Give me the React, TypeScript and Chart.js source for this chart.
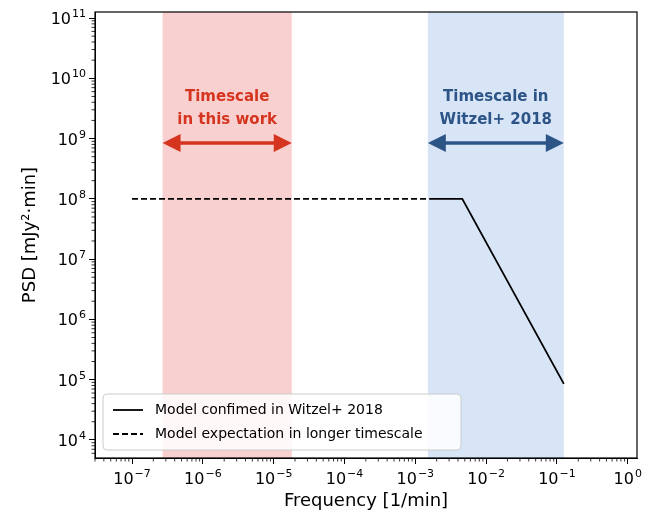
import React, { useEffect, useRef } from "react";
import { Chart, registerables } from "chart.js";
Chart.register(...registerables);

const dashedFreq = [1e-7, 1.6e-3];
const dashedPsd = [1e8, 1e8];
const solidFreq = [1.6e-3, 4.6e-3, 0.125];
const solidPsd = [1e8, 1e8, 8.5e4];
const redBand = [2.7e-7, 1.8e-5];
const blueBand = [1.5e-3, 0.125];
const xExps = [-7, -6, -5, -4, -3, -2, -1, 0];
const yExps = [4, 5, 6, 7, 8, 9, 10, 11];
const legendLabels = ["Model confimed in Witzel+ 2018", "Model expectation in longer timescale"];
const yTitle = "PSD [mJy²·min]";

const FONT = "DejaVu Sans";

const drawPow = (ctx: any, e: number, cx: number, cy: number, align: "center" | "right") => {
  const base = "10", ex = e === 0 ? "0" : String(e).replace("-", "−");
  ctx.font = `16px ${FONT}`; const bw = ctx.measureText(base).width;
  ctx.font = `11px ${FONT}`; const ew = ctx.measureText(ex).width;
  const tw = bw + ew + 1;
  const x0 = align === "center" ? cx - tw / 2 : cx - tw;
  ctx.textAlign = "left"; ctx.textBaseline = "alphabetic"; ctx.fillStyle = "#000";
  ctx.font = `16px ${FONT}`; ctx.fillText(base, x0, cy + 6);
  ctx.font = `11px ${FONT}`; ctx.fillText(ex, x0 + bw + 1, cy - 1);
};

const deco = {
  id: "deco",
  beforeDatasetsDraw(chart: any) {
    const { ctx, chartArea: a, scales } = chart;
    const x = scales.x;
    ctx.save();
    ctx.fillStyle = "rgba(244,170,170,0.55)";
    ctx.fillRect(x.getPixelForValue(redBand[0]), a.top, x.getPixelForValue(redBand[1]) - x.getPixelForValue(redBand[0]), a.bottom - a.top);
    ctx.fillStyle = "rgba(190,212,242,0.6)";
    ctx.fillRect(x.getPixelForValue(blueBand[0]), a.top, x.getPixelForValue(blueBand[1]) - x.getPixelForValue(blueBand[0]), a.bottom - a.top);
    ctx.restore();
  },
  afterDatasetsDraw(chart: any) {
    const { ctx, chartArea: a, scales } = chart;
    const x = scales.x, y = scales.y;
    ctx.save();
    ctx.strokeStyle = "#000"; ctx.lineWidth = 0.8;
    for (let e = -8; e <= 0; e++) for (let m = 2; m < 10; m++) {
      const px = x.getPixelForValue(m * Math.pow(10, e));
      if (px < a.left || px > a.right) continue;
      ctx.beginPath(); ctx.moveTo(px, a.bottom); ctx.lineTo(px, a.bottom + 3.5); ctx.stroke();
    }
    for (let e = 3; e <= 11; e++) for (let m = 2; m < 10; m++) {
      const py = y.getPixelForValue(m * Math.pow(10, e));
      if (py < a.top || py > a.bottom) continue;
      ctx.beginPath(); ctx.moveTo(a.left, py); ctx.lineTo(a.left - 3.5, py); ctx.stroke();
    }
    ctx.lineWidth = 1.2;
    ctx.strokeRect(a.left, a.top, a.right - a.left, a.bottom - a.top);
    // tick labels
    xExps.forEach((e) => drawPow(ctx, e, x.getPixelForValue(Math.pow(10, e)), a.bottom + 20, "center"));
    yExps.forEach((e) => drawPow(ctx, e, a.left - 9, y.getPixelForValue(Math.pow(10, e)), "right"));
    ctx.save();
    ctx.translate(30, (a.top + a.bottom) / 2); ctx.rotate(-Math.PI / 2);
    ctx.font = `18px ${FONT}`; ctx.textAlign = "center"; ctx.textBaseline = "middle"; ctx.fillStyle = "#000";
    ctx.fillText(yTitle, 0, 0);
    ctx.restore();
    const arrow = (x1: number, x2: number, yy: number, col: string) => {
      ctx.strokeStyle = col; ctx.fillStyle = col; ctx.lineWidth = 3.5;
      ctx.beginPath(); ctx.moveTo(x1 + 12, yy); ctx.lineTo(x2 - 12, yy); ctx.stroke();
      ctx.beginPath(); ctx.moveTo(x1, yy); ctx.lineTo(x1 + 18, yy - 9); ctx.lineTo(x1 + 18, yy + 9); ctx.closePath(); ctx.fill();
      ctx.beginPath(); ctx.moveTo(x2, yy); ctx.lineTo(x2 - 18, yy - 9); ctx.lineTo(x2 - 18, yy + 9); ctx.closePath(); ctx.fill();
    };
    const red = "#d5351f", blue = "#2d5487";
    const rx1 = x.getPixelForValue(redBand[0]), rx2 = x.getPixelForValue(redBand[1]);
    const bx1 = x.getPixelForValue(blueBand[0]), bx2 = x.getPixelForValue(blueBand[1]);
    arrow(rx1, rx2, 143, red);
    arrow(bx1, bx2, 143, blue);
    ctx.font = `bold 15px ${FONT}`; ctx.textAlign = "center"; ctx.textBaseline = "middle";
    ctx.fillStyle = red;
    ctx.fillText("Timescale", (rx1 + rx2) / 2, 97);
    ctx.fillText("in this work", (rx1 + rx2) / 2, 120);
    ctx.fillStyle = blue;
    ctx.fillText("Timescale in", (bx1 + bx2) / 2, 97);
    ctx.fillText("Witzel+ 2018", (bx1 + bx2) / 2, 120);
    const lx = a.left + 8, ly = 394, lw = 358, lh = 56;
    ctx.fillStyle = "rgba(255,255,255,0.85)"; ctx.strokeStyle = "#ccc"; ctx.lineWidth = 1;
    ctx.beginPath(); (ctx as any).roundRect(lx, ly, lw, lh, 4); ctx.fill(); ctx.stroke();
    ctx.strokeStyle = "#000"; ctx.lineWidth = 1.8;
    ctx.beginPath(); ctx.moveTo(lx + 10, ly + 16); ctx.lineTo(lx + 40, ly + 16); ctx.stroke();
    ctx.setLineDash([6, 3]);
    ctx.beginPath(); ctx.moveTo(lx + 10, ly + 40); ctx.lineTo(lx + 40, ly + 40); ctx.stroke();
    ctx.setLineDash([]);
    ctx.fillStyle = "#000"; ctx.font = `14px ${FONT}`; ctx.textAlign = "left";
    ctx.fillText(legendLabels[0], lx + 52, ly + 16);
    ctx.fillText(legendLabels[1], lx + 52, ly + 40);
    ctx.restore();
  },
};

export default function App() {
  const ref = useRef<HTMLCanvasElement>(null);
  useEffect(() => {
    const chart = new Chart(ref.current!, {
      type: "line",
      data: {
        datasets: [
          { data: solidFreq.map((f, i) => ({ x: f, y: solidPsd[i] })), borderColor: "#000", borderWidth: 1.8, pointRadius: 0 },
          { data: dashedFreq.map((f, i) => ({ x: f, y: dashedPsd[i] })), borderColor: "#000", borderWidth: 1.8, borderDash: [6, 3], pointRadius: 0 },
        ],
      },
      options: {
        animation: false, responsive: false,
        layout: { padding: { top: 12, right: 29, left: 0, bottom: 0 } },
        plugins: { legend: { display: false }, tooltip: { enabled: false } },
        scales: {
          x: {
            type: "logarithmic", min: Math.pow(10, -7.49), max: Math.pow(10, 0.13),
            afterBuildTicks: (s: any) => { s.ticks = xExps.map((e) => ({ value: Math.pow(10, e) })); },
            afterFit: (s: any) => { s.height = 54; },
            ticks: { callback: () => "", color: "#000", font: { family: FONT, size: 15 }, maxRotation: 0, padding: 12 },
            grid: { drawOnChartArea: false, tickLength: 6, color: "#000" },
            border: { color: "#000" },
            title: { display: true, text: "Frequency [1/min]", color: "#000", font: { family: FONT, size: 18 }, padding: 0 },
          },
          y: {
            type: "logarithmic", min: Math.pow(10, 3.7), max: Math.pow(10, 11.1),
            afterBuildTicks: (s: any) => { s.ticks = yExps.map((e) => ({ value: Math.pow(10, e) })); },
            afterFit: (s: any) => { s.width = 95; },
            ticks: { callback: () => "" },
            grid: { drawOnChartArea: false, tickLength: 6, color: "#000" },
            border: { color: "#000" },
          },
        },
      },
      plugins: [deco],
    });
    return () => chart.destroy();
  }, []);
  return (
    <div style={{ position: "fixed", left: 0, top: 0, width: 666, height: 512, background: "#fff" }}>
      <canvas ref={ref} width={666} height={512} style={{ width: 666, height: 512 }} />
    </div>
  );
}
